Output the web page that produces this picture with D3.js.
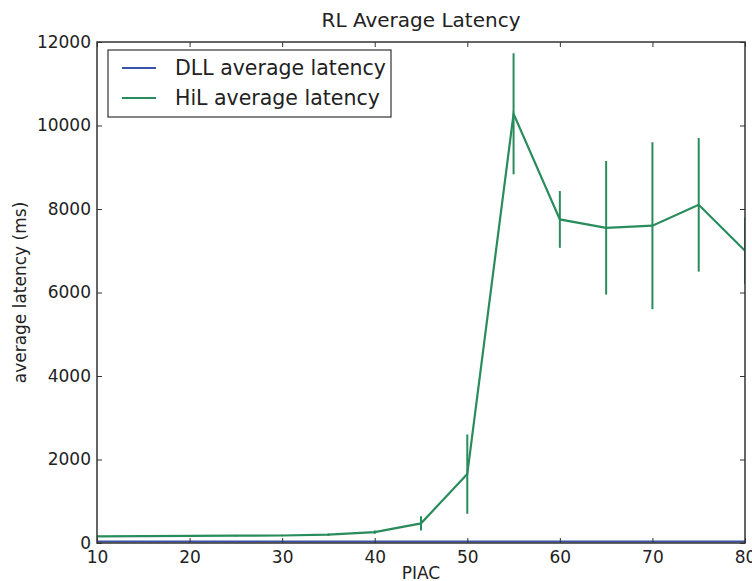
<!DOCTYPE html>
<html><head><meta charset="utf-8">
<script src="https://cdn.jsdelivr.net/npm/d3@7"></script>
<style>body{margin:0;background:#fff}svg{display:block}text{font-family:"DejaVu Sans",sans-serif}</style>
</head><body>
<script>
const piac = [10,15,20,25,30,35,40,45,50,55,60,65,70,75,80];
const dllLatency = [35,35,35,35,35,35,35,35,35,35,35,35,35,35,35];
const hilLatency = [160,165,170,175,180,200,260,470,1650,10280,7750,7550,7600,8100,7000];
const hilError = [20,20,20,20,20,30,40,170,950,1450,680,1600,2000,1600,800];
const xTicks = [10,20,30,40,50,60,70,80];
const yTicks = [0,2000,4000,6000,8000,10000,12000];
const seriesNames = ["DLL average latency","HiL average latency"];
const colors = ["#3a52a8","#2a8c5c"];

const W=752,H=581,m={l:97,r:7,t:42,b:38};
const svg=d3.select("body").append("svg").attr("width",W).attr("height",H);
const x=d3.scaleLinear().domain([10,80]).range([m.l,W-m.r]);
const y=d3.scaleLinear().domain([0,12000]).range([H-m.b,m.t]);
svg.append("defs").append("clipPath").attr("id","c").append("rect")
  .attr("x",m.l).attr("y",m.t).attr("width",W-m.l-m.r).attr("height",H-m.t-m.b);
const g=svg.append("g").attr("clip-path","url(#c)");
const line=d3.line().x((d,i)=>x(piac[i])).y(d=>y(d));
g.append("path").datum(dllLatency).attr("d",line).attr("fill","none").attr("stroke",colors[0]).attr("stroke-width",2);
g.selectAll(".eb").data(hilLatency).enter().append("line")
  .attr("x1",(d,i)=>x(piac[i])).attr("x2",(d,i)=>x(piac[i]))
  .attr("y1",(d,i)=>y(d-hilError[i])).attr("y2",(d,i)=>y(d+hilError[i]))
  .attr("stroke",colors[1]).attr("stroke-width",2);
g.append("path").datum(hilLatency).attr("d",line).attr("fill","none").attr("stroke",colors[1]).attr("stroke-width",2.2);

// axes
const axColor="#333";
const fs=17;
const fmt=d3.format("d");
const xb=svg.append("g").attr("transform",`translate(0,${H-m.b})`).call(d3.axisBottom(x).tickValues(xTicks).tickFormat(fmt).tickSizeInner(-5).tickSizeOuter(0).tickPadding(8));
const xt=svg.append("g").attr("transform",`translate(0,${m.t})`).call(d3.axisTop(x).tickValues(xTicks).tickSizeInner(-5).tickSizeOuter(0).tickFormat(""));
const yl=svg.append("g").attr("transform",`translate(${m.l},0)`).call(d3.axisLeft(y).tickValues(yTicks).tickFormat(fmt).tickSizeInner(-5).tickSizeOuter(0).tickPadding(6));
const yr=svg.append("g").attr("transform",`translate(${W-m.r},0)`).call(d3.axisRight(y).tickValues(yTicks).tickSizeInner(-5).tickSizeOuter(0).tickFormat(""));
[xb,xt,yl,yr].forEach(a=>{a.select(".domain").remove();a.selectAll("line").attr("stroke",axColor);
  a.selectAll("text").attr("font-size",fs).attr("fill","#222").attr("font-family","DejaVu Sans");});
svg.append("rect").attr("x",m.l).attr("y",m.t).attr("width",W-m.l-m.r).attr("height",H-m.t-m.b)
  .attr("fill","none").attr("stroke",axColor).attr("stroke-width",1.5);

svg.append("text").attr("x",(m.l+W-m.r)/2).attr("y",27).attr("text-anchor","middle").attr("font-size",20).attr("fill","#222").text("RL Average Latency");
svg.append("text").attr("x",(m.l+W-m.r)/2).attr("y",579).attr("text-anchor","middle").attr("font-size",fs).attr("fill","#222").text("PIAC");
svg.append("text").attr("transform",`translate(26,${(m.t+H-m.b)/2}) rotate(-90)`).attr("text-anchor","middle").attr("font-size",fs).attr("fill","#222").text("average latency (ms)");

// legend
const lg=svg.append("g");
lg.append("rect").attr("x",108).attr("y",50).attr("width",283).attr("height",67).attr("fill","#fff").attr("stroke","#333").attr("stroke-width",1.2);
seriesNames.forEach((n,i)=>{
  const yy=68+i*30;
  lg.append("line").attr("x1",122).attr("x2",156).attr("y1",yy).attr("y2",yy).attr("stroke",colors[i]).attr("stroke-width",2);
  lg.append("text").attr("x",175).attr("y",yy+7).attr("font-size",20.5).attr("fill","#222").text(n);
});
</script>
</body></html>
